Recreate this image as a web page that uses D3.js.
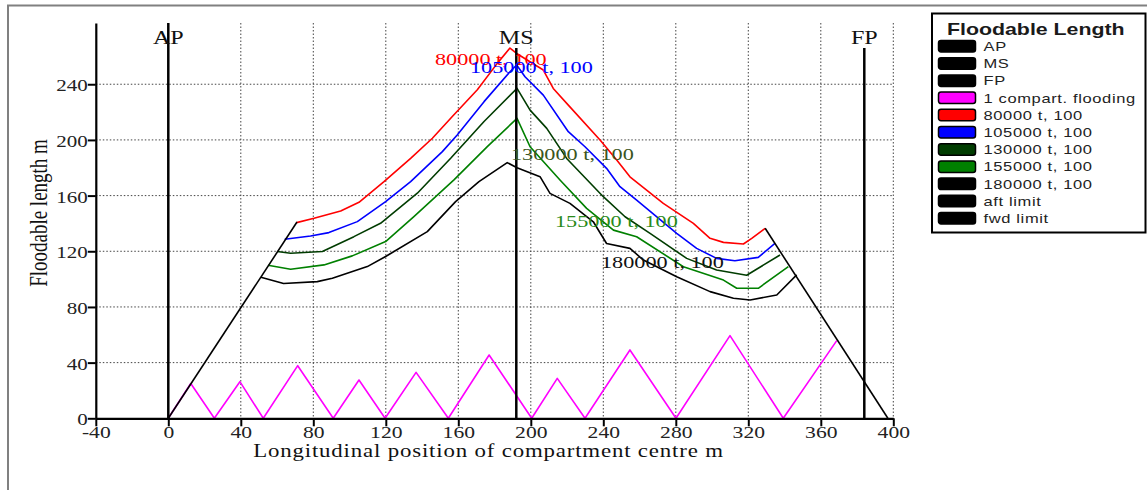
<!DOCTYPE html>
<html>
<head>
<meta charset="utf-8">
<script src="https://cdn.jsdelivr.net/npm/d3@7"></script>
<style>
  body { margin: 0; background: #fff; }
  svg { display: block; }
</style>
</head>
<body>
<div id="chart"></div>
<script>
// data (x: m from AP, y: floodable length m)
const aftLimit = [[0, 0], [71, 141]];
const fwdLimit = [[329.3, 136.5], [397, 0]];

const onePart = [
  [0, 0], [12.4, 25], [25.4, 0], [39.5, 26.3], [52.4, 0], [71.4, 37.8], [91, 0],
  [105.2, 27.5], [119.6, 0], [136.7, 33], [154.5, 0], [177, 45.5], [200.5, 0],
  [214.6, 28.7], [229.9, 0], [254.7, 49.1], [280.1, 0], [309.9, 59.4], [339.3, 0],
  [368.8, 55.8]
];

const disp80 = [
  [70.8, 140.6], [80.4, 143.7], [95.1, 149], [105.2, 155.2], [119, 170], [133.7, 186.8],
  [145.7, 201.2], [156.7, 216.8], [170.5, 236], [181.5, 255], [188.5, 266], [192.2, 262.1],
  [206.9, 250.2], [212.4, 237], [220.7, 225], [238.2, 199.9], [247.4, 185.5], [254.7, 173.5],
  [273.1, 154.4], [289.7, 140], [298.9, 129.3], [306.3, 126.4], [317.3, 125.2], [321.9, 129.3],
  [329.3, 136.5]
];
const disp105 = [
  [64.2, 128.6], [78.5, 131], [88.6, 133.4], [104.3, 141.3], [119.9, 155.7], [133.7, 170],
  [151.2, 191.6], [159.4, 203.6], [174.2, 227.5], [188.5, 249], [192.2, 253.8], [196.8, 245.4],
  [206.9, 232.2], [220.7, 205.9], [229.9, 195.1], [241.8, 179.6], [249.2, 166.4], [258.4, 156.8],
  [280.5, 132.9], [291.5, 122.1], [302.5, 114.9], [312.6, 113.2], [325.5, 115.6], [334.7, 125.6]
];
const disp130 = [
  [60.1, 119.8], [67.5, 118.6], [85, 119.8], [102.4, 130.5], [117.1, 140.1], [137.4, 161.7],
  [155.8, 186.8], [174.2, 213.2], [192.4, 237], [199.6, 221.4], [208.8, 208.3], [219.8, 186.7],
  [240, 159.2], [252, 144.8], [265.8, 132.8], [286, 114.9], [302.5, 106.5], [319.1, 102.8],
  [337.5, 117.3]
];
const disp155 = [
  [55, 110], [67.5, 107.1], [85.9, 110.2], [101.5, 116.7], [119.9, 127], [135.5, 144.9],
  [157.6, 171.3], [176, 195.2], [192.4, 215.5], [199.6, 195.1], [216.1, 171.2], [230.8, 150.8],
  [245.6, 135.2], [258.4, 130.4], [284.2, 108.9], [306.3, 99.3], [313.6, 93.4], [325.5, 93.4],
  [342.1, 109]
];
const disp180 = [
  [51.1, 101.3], [63.6, 96.8], [82.2, 98.2], [90.5, 100.6], [109.8, 109], [119.9, 116.2],
  [142.9, 134.1], [158.5, 155.7], [171.4, 170], [187, 183.7], [192.4, 180], [205.1, 173.6],
  [210.6, 161.6], [221.6, 154.4], [234.5, 141.2], [241.8, 125.6], [254.7, 122.1], [262.1, 113.7],
  [280.5, 101.7], [298.9, 91], [311.8, 86.2], [321, 85], [335.7, 88.6], [346.7, 103]
];

const stations = ["AP", "MS", "FP"];
const stationX = [0, 192, 384];
const stationTop = [284, 266, 266];

const xTicks = [-40, 0, 40, 80, 120, 160, 200, 240, 280, 320, 360, 400];
const yTicks = [0, 40, 80, 120, 160, 200, 240];

const legendNames = ["AP", "MS", "FP", "1 compart. flooding", "80000 t, 100", "105000 t, 100",
  "130000 t, 100", "155000 t, 100", "180000 t, 100", "aft limit", "fwd limit"];
const legendColors = ["#000", "#000", "#000", "#ff00ff", "#ff0000", "#0000ff",
  "#003c00", "#008000", "#000", "#000", "#000"];

// ---- layout ----
const W = 1147, H = 490;
const serif = "'Liberation Serif', 'Times New Roman', serif";
const sans = "'Liberation Sans', Arial, sans-serif";
const stretch = 1.27; // the reference text is wide

const x = d3.scaleLinear().domain([-40, 400]).range([95.8, 893.3]);
const y = d3.scaleLinear().domain([0, 284]).range([418.3, 23]);

const svg = d3.select("#chart").append("svg").attr("width", W).attr("height", H);
svg.append("rect").attr("width", W).attr("height", H).attr("fill", "#fff");

// panel frame (only top and left edges are in view)
svg.append("path").attr("d", `M8,${H}V5.5H${W}`)
  .attr("fill", "none").attr("stroke", "#808080").attr("stroke-width", 2);

function label(g, txt, px, py, size, family, color, anchor, weight) {
  return g.append("text")
    .attr("transform", `translate(${px},${py}) scale(${stretch},1)`)
    .attr("text-anchor", anchor || "start")
    .attr("font-family", family)
    .attr("font-size", size)
    .attr("font-weight", weight || "normal")
    .attr("fill", color)
    .text(txt);
}

// grid
const grid = svg.append("g").attr("stroke", "#444").attr("stroke-width", 1)
  .attr("stroke-dasharray", "1.5,2");
grid.selectAll(".gx").data(xTicks.filter(d => d > -40)).join("line")
  .attr("x1", d => x(d)).attr("x2", d => x(d))
  .attr("y1", y(284)).attr("y2", y(0));
grid.selectAll(".gy").data(yTicks.filter(d => d > 0)).join("line")
  .attr("x1", x(-40)).attr("x2", x(400))
  .attr("y1", d => y(d)).attr("y2", d => y(d));

// curves
const line = d3.line().x(d => x(d[0])).y(d => y(d[1]));
const series = [
  { d: onePart, c: legendColors[3] },
  { d: disp80, c: legendColors[4] },
  { d: disp105, c: legendColors[5] },
  { d: disp130, c: legendColors[6] },
  { d: disp155, c: legendColors[7] },
  { d: disp180, c: legendColors[8] },
  { d: aftLimit, c: "#000" },
  { d: fwdLimit, c: "#000" }
];
svg.append("g").selectAll("path").data(series).join("path")
  .attr("d", s => line(s.d))
  .attr("fill", "none")
  .attr("stroke", s => s.c)
  .attr("stroke-width", 1.6)
  .attr("stroke-linejoin", "round");

// AP / MS / FP
svg.append("g").selectAll("line").data(stationX).join("line")
  .attr("x1", d => x(d)).attr("x2", d => x(d))
  .attr("y1", (d, i) => y(stationTop[i])).attr("y2", y(0))
  .attr("stroke", "#000").attr("stroke-width", 2.5);
const st = svg.append("g");
stations.forEach((s, i) => label(st, s, x(stationX[i]), 43.5, 19, serif, "#111", "middle"));

// curve annotations
const notes = [
  { t: "80000 t, 100", c: "#ff0000", px: 435, py: 65 },
  { t: "105000 t, 100", c: "#0000ff", px: 470, py: 72.5 },
  { t: "130000 t, 100", c: "#3a5520", px: 511, py: 160 },
  { t: "155000 t, 100", c: "#2a8a1a", px: 555, py: 226.5 },
  { t: "180000 t, 100", c: "#111", px: 601, py: 268 }
];
const ng = svg.append("g");
notes.forEach(n => label(ng, n.t, n.px, n.py, 17.5, serif, n.c));

// axes
const yAxis = svg.append("g").attr("transform", `translate(${x(-40)},0)`)
  .call(d3.axisLeft(y).tickValues(yTicks).tickSize(8).tickSizeOuter(0).tickPadding(0));
const xAxis = svg.append("g").attr("transform", `translate(0,${y(0)})`)
  .call(d3.axisBottom(x).tickValues(xTicks).tickFormat(d => String(d))
    .tickSize(8).tickSizeOuter(0).tickPadding(0));
[yAxis, xAxis].forEach(a => {
  a.select(".domain").attr("stroke", "#000").attr("stroke-width", 2.2);
  a.selectAll(".tick line").attr("stroke", "#000").attr("stroke-width", 2);
});
yAxis.selectAll(".tick text")
  .attr("x", null).attr("dy", null)
  .attr("transform", `translate(-8,6.5) scale(1.2,1)`)
  .attr("font-family", serif).attr("font-size", 17.5).attr("fill", "#222");
xAxis.selectAll(".tick text")
  .attr("y", null).attr("dy", null)
  .attr("transform", `translate(0,20) scale(${stretch},1)`)
  .attr("font-family", serif).attr("font-size", 17).attr("fill", "#222");

// axis titles
const at = svg.append("g");
label(at, "Longitudinal position of compartment centre  m", 488.5, 457, 18, serif, "#111", "middle")
  .attr("letter-spacing", 0.65);
at.append("text")
  .attr("transform", `translate(47,213) rotate(-90) scale(1,${stretch})`)
  .attr("text-anchor", "middle")
  .attr("font-family", serif).attr("font-size", 19).attr("fill", "#111")
  .text("Floodable length  m");

// legend
const lg = svg.append("g");
lg.append("rect").attr("x", 932).attr("y", 13.5).attr("width", 213.5).attr("height", 219)
  .attr("fill", "#fff").attr("stroke", "#000").attr("stroke-width", 2);
label(lg, "Floodable Length", 947, 34.5, 16.8, sans, "#1a1a1a", "start", "bold");
const rows = lg.selectAll(".row").data(legendNames).join("g")
  .attr("transform", (d, i) => `translate(938,${46 + i * 17.2})`);
rows.append("rect").attr("x", 0.5).attr("y", -5.5).attr("width", 37).attr("height", 11.5)
  .attr("rx", 2.5)
  .attr("fill", (d, i) => legendColors[i]).attr("stroke", "#000").attr("stroke-width", 1.5);
rows.each(function (d) {
  label(d3.select(this), d, 45.5, 5, 13, sans, "#222").attr("letter-spacing", 0.5);
});
</script>
</body>
</html>
